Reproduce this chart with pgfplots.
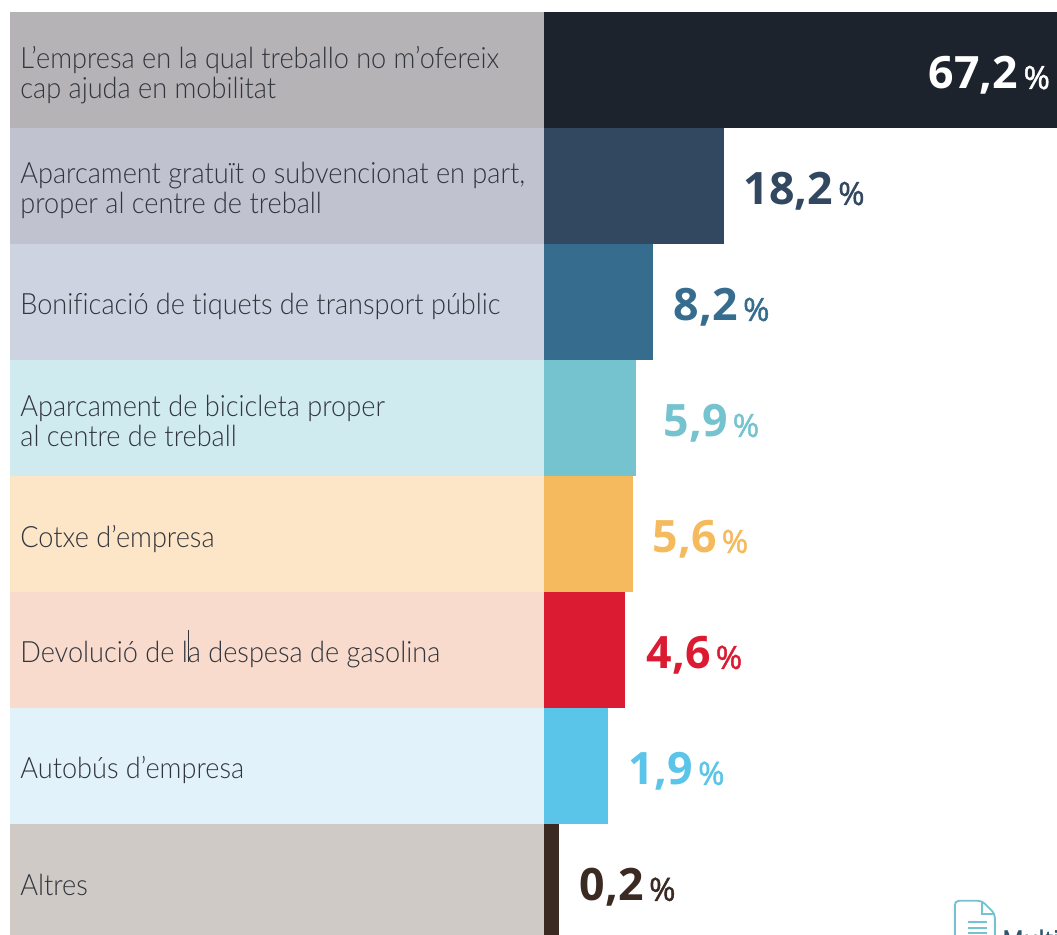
\documentclass[border=0pt]{standalone}
\usepackage{fontspec}
\setmainfont{Lato Light}[FakeStretch=0.925, Ligatures=NoCommon]
\newfontfamily\numfont{Open Sans}
\newfontfamily\pctfont{Open Sans}[FakeBold=1.5]
\usepackage{pgfplots}
\pgfplotsset{compat=1.18}

\definecolor{band1}{HTML}{B6B3B7}
\definecolor{band2}{HTML}{C0C2D0}
\definecolor{band3}{HTML}{CDD3E0}
\definecolor{band4}{HTML}{D0EBEF}
\definecolor{band5}{HTML}{FDE5C8}
\definecolor{band6}{HTML}{F8DBCC}
\definecolor{band7}{HTML}{E2F2FA}
\definecolor{band8}{HTML}{CFCAC6}
\definecolor{bar1}{HTML}{1C232D}
\definecolor{bar2}{HTML}{324860}
\definecolor{bar3}{HTML}{366C8E}
\definecolor{bar4}{HTML}{74C3CF}
\definecolor{bar5}{HTML}{F5BA5E}
\definecolor{bar6}{HTML}{DB1B32}
\definecolor{bar7}{HTML}{5AC4E9}
\definecolor{bar8}{HTML}{3A2A22}
\definecolor{labeltext}{HTML}{31353D}

% the drawn bars are not to scale in the original, so the length is kept in px
% #1 y, #2 bar length, #3 value, #4 colour, #5 text colour, #6 gap, #7 anchor
\newcommand{\rowbar}[7]{%
  \addplot[xbar, draw=none, fill=band#4, forget plot] coordinates {(-534,#1)};
  \addplot[xbar, draw=none, fill=bar#4, forget plot,
    point meta=explicit symbolic,
    nodes near coords={\pgfplotspointmeta\hspace{4pt}{\pctfont\mdseries\fontsize{24}{24}\selectfont\%}},
    every node near coord/.append style={anchor=#7, inner sep=0pt, xshift=#6, yshift=-14.25pt,
      text=#5, font=\numfont\bfseries\fontsize{33.5}{33.5}\selectfont},
  ] coordinates {(#2,#1) [#3]};
}

\begin{document}
\begin{tikzpicture}
\begin{axis}[
    scale only axis,
    width=792.75pt,
    height=701.25pt,
    xmin=-544, xmax=513,
    ymin=0, ymax=935,
    y dir=reverse,
    bar width=116,
    bar shift=0pt,
    axis on top,
    axis line style={draw=none},
    major tick length=0pt,
    xtick=\empty,
    ytick={70,186,302,416,534,650,766,880},
    yticklabels={
      {L’empresa en la qual treballo no m’ofereix\\cap ajuda en mobilitat},
      {Aparcament gratuït o subvencionat en part,\\proper al centre de treball},
      {Bonificació de tiquets de transport públic},
      {Aparcament de bicicleta proper\\al centre de treball},
      {Cotxe d’empresa},
      {Devolució de la despesa de gasolina},
      {Autobús d’empresa},
      {Altres}},
    yticklabel style={anchor=west, inner sep=0pt, xshift=15pt, yshift=-3.5pt, align=left, text=labeltext,
      font=\fontsize{22}{22.5}\selectfont},
]
\rowbar{70}{513}{67,2}{1}{white}{-5pt}{base east}
\rowbar{186}{180}{18,2}{2}{bar2}{14.5pt}{base west}
\rowbar{302}{109}{8,2}{3}{bar3}{15.5pt}{base west}
\rowbar{418}{92}{5,9}{4}{bar4}{20.5pt}{base west}
\rowbar{534}{89}{5,6}{5}{bar5}{14.5pt}{base west}
\rowbar{650}{81}{4,6}{6}{bar6}{16pt}{base west}
\rowbar{766}{64}{1,9}{7}{bar7}{15.5pt}{base west}
\rowbar{882}{15}{0,2}{8}{bar8}{15.5pt}{base west}
% text cursor left in the original
\draw[labeltext, line width=0.5pt] (axis cs:-356,630) -- (axis cs:-356,662);
% document icon, cut off at the bottom edge
\begin{scope}
\clip (axis cs:300,880) rectangle (axis cs:513,935);
\draw[bar4, line width=1.4pt, rounded corners=3pt]
  (axis cs:411,945) -- (axis cs:411,901) -- (axis cs:438,901) -- (axis cs:451,914) -- (axis cs:451,945);
\draw[bar4, line width=1.2pt] (axis cs:438,901) -- (axis cs:438,914) -- (axis cs:451,914);
\draw[bar4, line width=1.2pt] (axis cs:424,922) -- (axis cs:443,922);
\draw[bar4, line width=1.2pt] (axis cs:424,928) -- (axis cs:443,928);
\draw[bar4, line width=1.2pt] (axis cs:424,933) -- (axis cs:443,933);
\node[anchor=base west, inner sep=0pt, text=bar3!80!black, font=\pctfont\fontsize{18}{18}\selectfont]
  at (axis cs:458,948) {Multimèdia};
\end{scope}
\end{axis}
\end{tikzpicture}
\end{document}
